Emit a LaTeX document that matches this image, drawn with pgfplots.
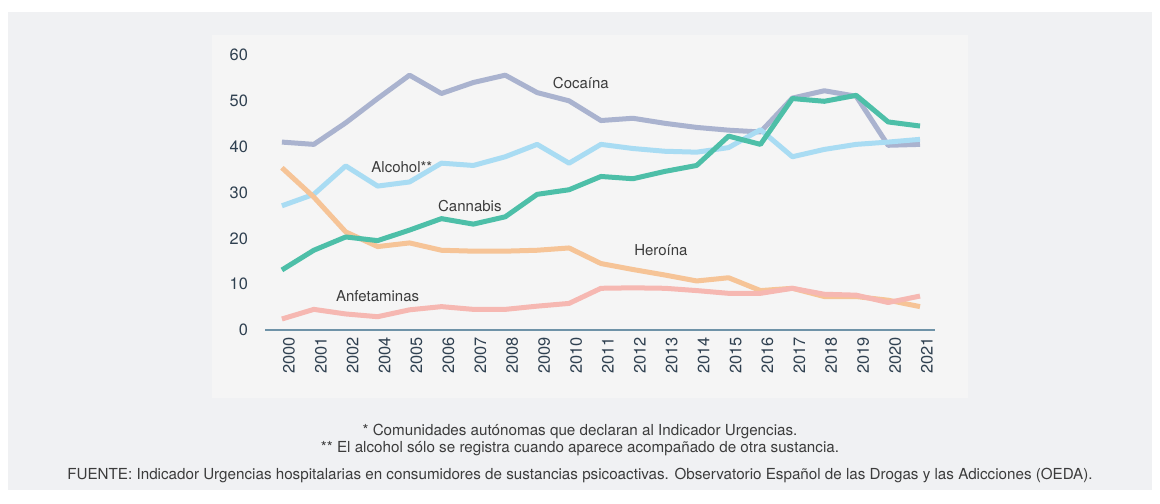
\documentclass[border=0pt]{standalone}
\usepackage{pgfplots}
\pgfplotsset{compat=1.18}
\usepackage{fontspec}
\setmainfont{TeX Gyre Heros}

\definecolor{panel}{HTML}{F0F1F3}
\definecolor{inner}{HTML}{F5F5F5}
\definecolor{cocaina}{HTML}{AAB3CF}
\definecolor{alcohol}{HTML}{A9DCF3}
\definecolor{cannabis}{HTML}{4DBFA8}
\definecolor{heroina}{HTML}{F6C497}
\definecolor{anfeta}{HTML}{F6B8B2}
\definecolor{ticktext}{HTML}{2F4050}
\definecolor{axisline}{HTML}{6F93A8}
\definecolor{txt}{HTML}{3C3C3C}

\begin{document}
\begin{tikzpicture}
% page 1160x503 px at 0.5pt per px
\useasboundingbox[fill=white] (0pt,0pt) rectangle (580pt,251.5pt);
\fill[panel] (4pt,6.5pt) rectangle (576pt,245.5pt);
\fill[inner] (106pt,52.5pt) rectangle (484pt,234pt);

\begin{axis}[
    at={(132.5pt,86.5pt)}, anchor=south west,
    scale only axis, width=335pt, height=137.5pt,
    xmin=-0.53, xmax=20.47, ymin=0, ymax=60,
    axis x line*=bottom, axis y line*=left,
    x axis line style={axisline, line width=1.1pt, -},
    y axis line style={draw=none},
    xtick={0,...,20},
    xticklabels={2000,2001,2002,2004,2005,2006,2007,2008,2009,2010,2011,2012,2013,2014,2015,2016,2017,2018,2019,2020,2021},
    ytick={0,10,...,60},
    major tick length=0pt,
    /pgf/number format/assume math mode=true,
    tick label style={font=\fontsize{8.2}{9}\selectfont, text=ticktext},
    xticklabel style={rotate=90, anchor=east, yshift=-3.5pt},
    yticklabel style={anchor=east, xshift=-5pt},
    every axis plot/.append style={line width=2.5pt, line join=round, no marks},
    clip=false,
]
\addplot[cocaina] coordinates {(0,41.0) (1,40.5) (2,45.2) (3,50.5) (4,55.6) (5,51.6) (6,54.0) (7,55.6) (8,51.8) (9,50.0) (10,45.7) (11,46.2) (12,45.1) (13,44.2) (14,43.6) (15,43.2) (16,50.6) (17,52.2) (18,51.0) (19,40.3) (20,40.5)};
\addplot[alcohol] coordinates {(0,27.1) (1,29.6) (2,35.8) (3,31.4) (4,32.3) (5,36.4) (6,35.9) (7,37.8) (8,40.5) (9,36.4) (10,40.5) (11,39.6) (12,39.0) (13,38.8) (14,39.8) (15,43.7) (16,37.8) (17,39.4) (18,40.5) (19,41.0) (20,41.6)};
\addplot[heroina] coordinates {(0,35.4) (1,29.0) (2,21.4) (3,18.2) (4,19.0) (5,17.4) (6,17.2) (7,17.2) (8,17.4) (9,17.9) (10,14.5) (11,13.2) (12,12.0) (13,10.7) (14,11.4) (15,8.6) (16,9.1) (17,7.3) (18,7.3) (19,6.5) (20,5.1)};
\addplot[anfeta] coordinates {(0,2.4) (1,4.5) (2,3.5) (3,2.9) (4,4.4) (5,5.1) (6,4.5) (7,4.5) (8,5.2) (9,5.8) (10,9.1) (11,9.2) (12,9.1) (13,8.6) (14,8.0) (15,8.0) (16,9.1) (17,7.8) (18,7.6) (19,6.0) (20,7.4)};
\addplot[cannabis] coordinates {(0,13.1) (1,17.4) (2,20.3) (3,19.5) (4,21.8) (5,24.3) (6,23.1) (7,24.7) (8,29.6) (9,30.6) (10,33.5) (11,33.0) (12,34.6) (13,35.9) (14,42.3) (15,40.5) (16,50.5) (17,49.9) (18,51.2) (19,45.4) (20,44.5)};

\begin{scope}[every node/.style={font=\fontsize{7.5}{9}\selectfont, text=txt, inner sep=0pt}]
\node at (axis cs:9.37,53.8) {Cocaína};
\node at (axis cs:3.76,35.5) {Alcohol**};
\node at (axis cs:5.89,27.0) {Cannabis};
\node at (axis cs:11.88,17.4) {Heroína};
\node at (axis cs:3.0,7.3) {Anfetaminas};
\end{scope}
\end{axis}

\begin{scope}[every node/.style={font=\fontsize{7.6}{9}\selectfont, text=txt, inner sep=0pt}]
\node at (290pt,36pt) {* Comunidades autónomas que declaran al Indicador Urgencias.};
\node at (290pt,27pt) {** El alcohol sólo se registra cuando aparece acompañado de otra sustancia.};
\node at (290pt,14pt) {FUENTE: Indicador Urgencias hospitalarias en consumidores de sustancias psicoactivas. Observatorio Español de las Drogas y las Adicciones (OEDA).};
\end{scope}
\end{tikzpicture}
\end{document}
